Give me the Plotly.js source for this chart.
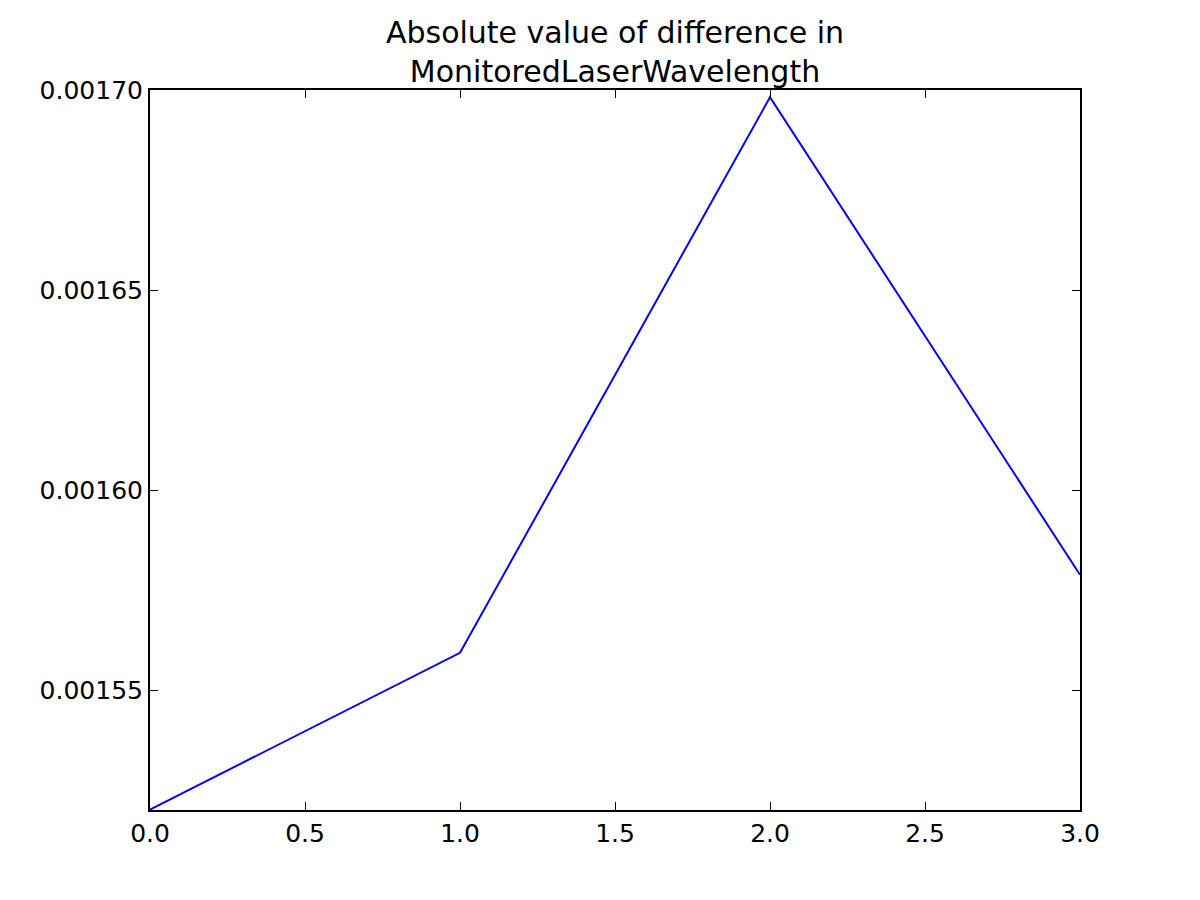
<!DOCTYPE html>
<html>
<head>
<meta charset="utf-8">
<script src="https://cdn.plot.ly/plotly-3.0.1.min.js"></script>
<style>html,body{margin:0;padding:0;background:#fff;}</style>
</head>
<body>
<div id="chart" style="width:1200px;height:900px;"></div>
<script>
const xValues = [0, 1, 2, 3];
const diffValues = [0.0015201, 0.0015593, 0.0016982, 0.0015788];
const titleText = "Absolute value of difference in<br>MonitoredLaserWavelength";

const trace = {
  x: xValues,
  y: diffValues,
  type: "scatter",
  mode: "lines",
  line: {color: "#0000ff", width: 2},
  hoverinfo: "skip"
};

const layout = {
  width: 1200,
  height: 900,
  margin: {l: 150, r: 120, t: 90, b: 90},
  paper_bgcolor: "#ffffff",
  plot_bgcolor: "#ffffff",
  showlegend: false,
  font: {family: "DejaVu Sans", size: 25, color: "#000"},
  title: {
    text: titleText,
    font: {family: "DejaVu Sans", size: 30, color: "#000"},
    x: 0.5125, xanchor: "center",
    yref: "container",
    y: 0.952, yanchor: "top"
  },
  xaxis: {
    range: [0, 3],
    tickmode: "linear", tick0: 0, dtick: 0.5,
    tickformat: ".1f",
    ticks: "inside", ticklen: 8, tickwidth: 1, tickcolor: "#000",
    showline: true, linecolor: "#000", linewidth: 2, mirror: "ticks",
    showgrid: false, zeroline: false,
    tickfont: {family: "DejaVu Sans", size: 25, color: "#000"}
  },
  yaxis: {
    range: [0.00152, 0.00170],
    tickmode: "linear", tick0: 0.00155, dtick: 0.00005,
    tickformat: ".5f",
    ticks: "inside", ticklen: 8, tickwidth: 1, tickcolor: "#000",
    showline: true, linecolor: "#000", linewidth: 2, mirror: "ticks",
    showgrid: false, zeroline: false,
    tickfont: {family: "DejaVu Sans", size: 25, color: "#000"}
  }
};

Plotly.newPlot("chart", [trace], layout, {displayModeBar: false, staticPlot: true});
</script>
</body>
</html>
